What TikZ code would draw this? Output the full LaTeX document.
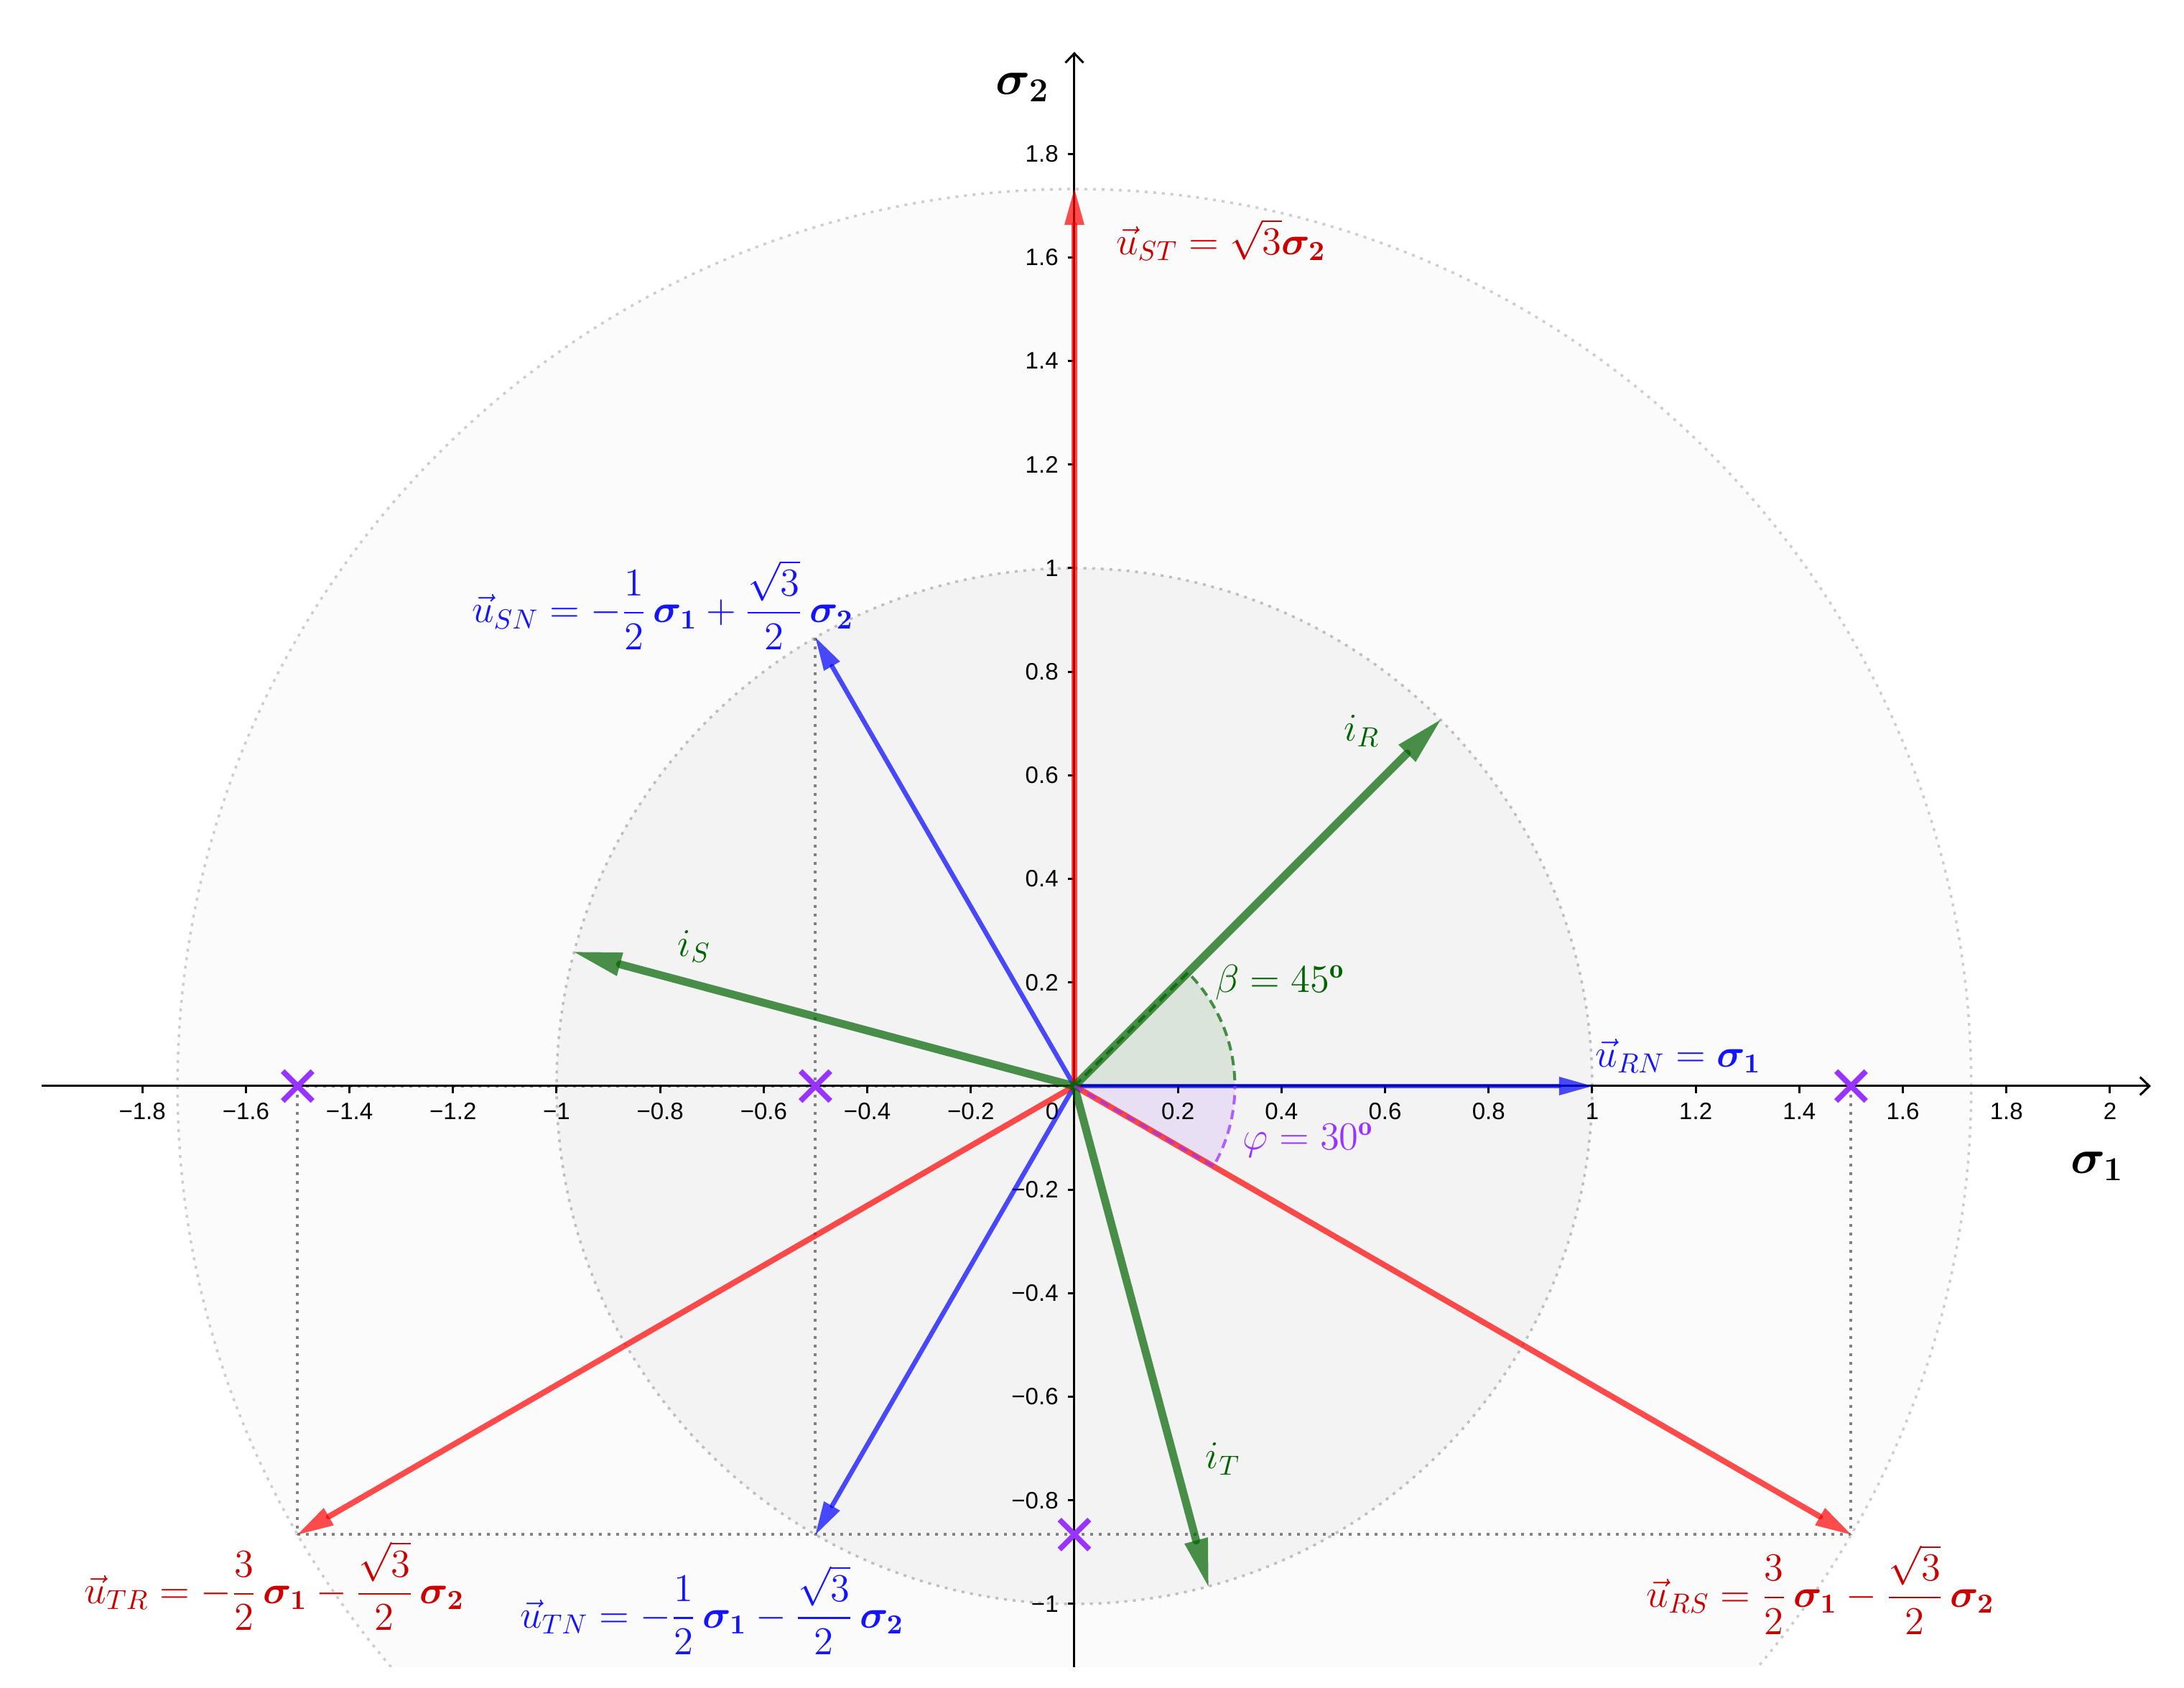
\RequirePackage{fix-cm}
\documentclass[tikz,border=0pt]{standalone}
\usepackage{amsmath}
\usepackage{amssymb}
\usepackage{bm}
\usepackage{fontspec}
\newfontfamily\tickfont{Liberation Sans}
\usetikzlibrary{arrows.meta,shapes.misc}
\definecolor{ggred}{RGB}{255,0,0}
\definecolor{ggblue}{RGB}{0,0,255}
\definecolor{gggreen}{RGB}{0,100,0}
\definecolor{ggpurple}{RGB}{153,51,255}
\definecolor{txtred}{RGB}{204,0,0}
\definecolor{txtblue}{RGB}{20,20,255}
\definecolor{outerfill}{RGB}{251,251,251}
\definecolor{innerfill}{RGB}{243,243,243}
\definecolor{outerdot}{RGB}{205,205,205}
\definecolor{innerdot}{RGB}{190,190,190}
\definecolor{projgray}{RGB}{130,130,130}
\begin{document}
\begin{tikzpicture}[x=7.21cm,y=7.21cm,
  axisline/.style={black, line width=0.03cm},
  axisarrow/.style={axisline, -{Straight Barb[length=0.13cm,width=0.25cm]}},
  ticklab/.style={font=\tickfont\fontsize{9.4}{11}\selectfont, inner sep=0pt},
  lab/.style={font=\fontsize{15.6}{19}\selectfont, inner sep=0pt},
  axlab/.style={font=\fontsize{19}{22}\selectfont, inner sep=0pt},
  projline/.style={projgray, line width=0.04cm, dash pattern=on 0.04cm off 0.08cm},
  vecred/.style={ggred, opacity=0.7, line width=0.08cm, line cap=round, -{Triangle[length=0.50cm,width=0.28cm,line width=0pt]}},
  vecblue/.style={ggblue, opacity=0.7, line width=0.065cm, line cap=round, -{Triangle[length=0.46cm,width=0.26cm,line width=0pt]}},
  vecgreen/.style={gggreen, opacity=0.7, line width=0.11cm, line cap=round, -{Triangle[length=0.66cm,width=0.34cm,line width=0pt]}},
  sectg/.style={gggreen, opacity=0.7, line width=0.04cm, dash pattern=on 0.13cm off 0.08cm},
  sectp/.style={ggpurple, opacity=0.75, line width=0.04cm, dash pattern=on 0.13cm off 0.08cm},
  xmark/.style={cross out, draw=ggpurple, line width=0.075cm, minimum size=0.34cm, inner sep=0pt}
]
\useasboundingbox (-2.0749,-1.1623) rectangle (2.1429,2.0971);
\begin{scope}
\clip (-2.0749,-1.121) rectangle (2.1429,2.0971);
% circles
\fill[outerfill] (0,0) circle[radius=12.488cm];
\draw[outerdot, line width=0.035cm, dash pattern=on 0.04cm off 0.08cm] (0,0) circle[radius=12.488cm];
\fill[innerfill] (0,0) circle[radius=7.21cm];
\draw[innerdot, line width=0.035cm, dash pattern=on 0.04cm off 0.08cm] (0,0) circle[radius=7.21cm];
% points
\coordinate (O) at (0,0);
\coordinate (ST) at (0,1.7321);
\coordinate (RS) at (1.5,-0.8660);
\coordinate (TR) at (-1.5,-0.8660);
\coordinate (RN) at (1,0);
\coordinate (SN) at (-0.5,0.8660);
\coordinate (TN) at (-0.5,-0.8660);
\coordinate (IR) at (0.7071,0.7071);
\coordinate (IS) at (-0.9659,0.2588);
\coordinate (IT) at (0.2588,-0.9659);
\coordinate (PA) at (-1.5,0);
\coordinate (PB) at (-0.5,0);
\coordinate (PC) at (1.5,0);
\coordinate (PD) at (0,-0.8660);
% sector fills
\fill[gggreen, fill opacity=0.1] (O) -- (0.31,0) arc[start angle=0,end angle=45,radius=2.235cm] -- cycle;
\fill[ggpurple, fill opacity=0.1] (O) -- (0.31,0) arc[start angle=0,end angle=-30,radius=2.235cm] -- cycle;
% projection lines
\draw[projline] (PA) -- (TR);
\draw[projline] (SN) -- (TN);
\draw[projline] (PC) -- (RS);
\draw[projline] (TR) -- (RS);
\draw[projline] (PA) -- (O);
% axes
\coordinate (xs) at (-1.994,0);
\coordinate (xe) at (2.079,0);
\coordinate (ys) at (0,-1.2);
\coordinate (ye) at (0,1.997);
\draw[axisarrow] (xs) -- (xe);
\draw[axisarrow] (ys) -- (ye);
\foreach \v/\t in {-1.8/−1.8,-1.6/−1.6,-1.4/−1.4,-1.2/−1.2,-1/−1,-0.8/−0.8,-0.6/−0.6,-0.4/−0.4,-0.2/−0.2,0.2/0.2,0.4/0.4,0.6/0.6,0.8/0.8,1/1,1.2/1.2,1.4/1.4,1.6/1.6,1.8/1.8,2/2}{
  \draw[axisline] (\v,0) -- ++(0,-0.1cm);
  \node[ticklab] at (\v,-0.0485) {\t};
}
\foreach \v/\t in {-1/−1,-0.8/−0.8,-0.6/−0.6,-0.4/−0.4,-0.2/−0.2,0.2/0.2,0.4/0.4,0.6/0.6,0.8/0.8,1/1,1.2/1.2,1.4/1.4,1.6/1.6,1.8/1.8}{
  \draw[axisline] (0,\v) -- ++(-0.09cm,0);
  \node[ticklab, anchor=east] at (-0.03,\v) {\t};
}
\node[ticklab] (zero) at (-0.043,-0.0485) {0};
% vectors
\draw[vecblue] (O) -- (RN);
\draw[vecblue] (O) -- (SN);
\draw[vecblue] (O) -- (TN);
\draw[vecred] (O) -- (ST);
\draw[vecred] (O) -- (RS);
\draw[vecred] (O) -- (TR);
\draw[vecgreen] (O) -- (IR);
\draw[vecgreen] (O) -- (IS);
\draw[vecgreen] (O) -- (IT);
% sector outlines
\draw[sectg] (O) -- (0.2192,0.2192) arc[start angle=45,end angle=0,radius=2.235cm];
\draw[sectp] (O) -- (0.2685,-0.155) arc[start angle=-30,end angle=0,radius=2.235cm];
% markers
\node[xmark] (m1) at (PA) {};
\node[xmark] (m2) at (PB) {};
\node[xmark] (m3) at (PC) {};
\node[xmark] (m4) at (PD) {};
\end{scope}
% labels
\node[axlab] (s2) at (-0.100,1.929) {$\boldsymbol{\sigma_2}$};
\node[axlab] (s1) at (1.975,-0.155) {$\boldsymbol{\sigma_1}$};
\node[lab, text=txtred] (lST) at (0.283,1.634) {$\vec{u}_{ST} = \sqrt{3}\boldsymbol{\sigma_2}$};
\node[lab, text=txtblue] (lRN) at (1.166,0.058) {$\vec{u}_{RN} = \boldsymbol{\sigma_1}$};
\node[lab, text=txtblue] (lSN) at (-0.795,0.929) {$\vec{u}_{SN} = -\dfrac{1}{2}\,\boldsymbol{\sigma_1} + \dfrac{\sqrt{3}}{2}\,\boldsymbol{\sigma_2}$};
\node[lab, text=txtred] (lTR) at (-1.545,-0.965) {$\vec{u}_{TR} = -\dfrac{3}{2}\,\boldsymbol{\sigma_1} - \dfrac{\sqrt{3}}{2}\,\boldsymbol{\sigma_2}$};
\node[lab, text=txtblue] (lTN) at (-0.700,-1.012) {$\vec{u}_{TN} = -\dfrac{1}{2}\,\boldsymbol{\sigma_1} - \dfrac{\sqrt{3}}{2}\,\boldsymbol{\sigma_2}$};
\node[lab, text=txtred] (lRS) at (1.441,-0.972) {$\vec{u}_{RS} = \dfrac{3}{2}\,\boldsymbol{\sigma_1} - \dfrac{\sqrt{3}}{2}\,\boldsymbol{\sigma_2}$};
\node[lab, text=gggreen] (lIR) at (0.555,0.686) {$i_R$};
\node[lab, text=gggreen] (lIS) at (-0.734,0.270) {$i_S$};
\node[lab, text=gggreen] (lIT) at (0.287,-0.720) {$i_T$};
\node[lab, text=gggreen] (lb) at (0.397,0.200) {$\beta = 45^{\mathbf{o}}$};
\node[lab, text=ggpurple] (lp) at (0.452,-0.104) {$\varphi = 30^{\mathbf{o}}$};
\end{tikzpicture}
\end{document}
